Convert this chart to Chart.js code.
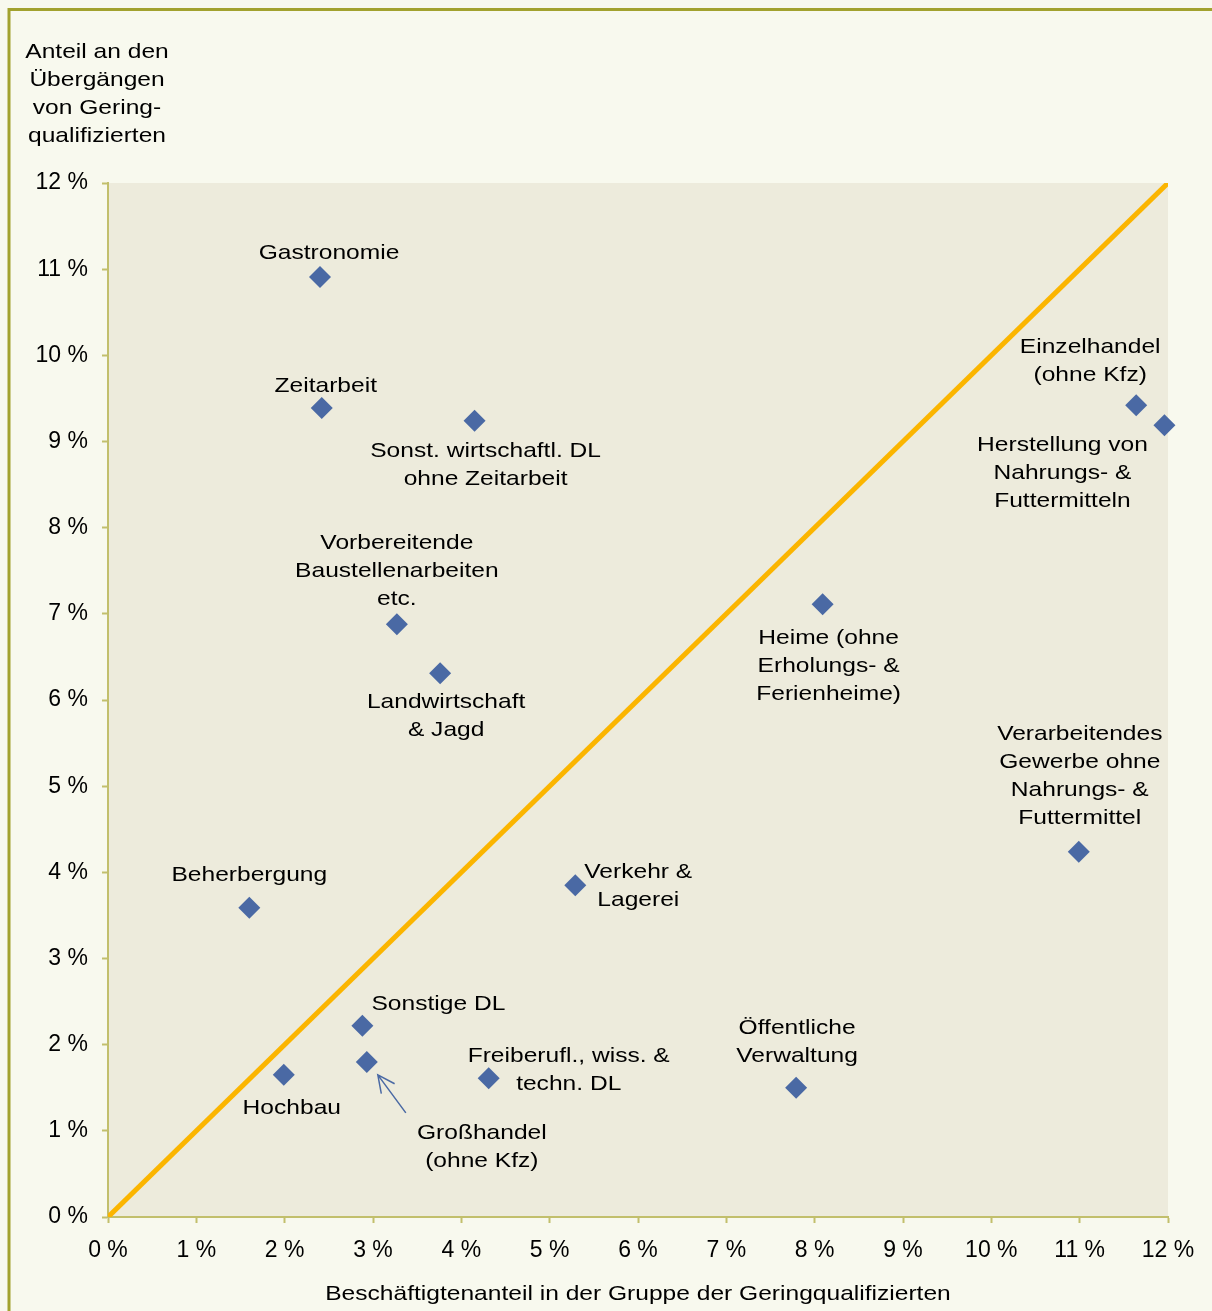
<!DOCTYPE html>
<html lang="de">
<head>
<meta charset="utf-8">
<title>Übergänge von Geringqualifizierten</title>
<script src="https://cdn.jsdelivr.net/npm/chart.js@4.4.1/dist/chart.umd.min.js"></script>
<style>
    body { margin: 0; background: #f8f9ee; }
    #wrap { position: relative; width: 1212px; height: 1311px; }
</style>
</head>
<body>
<div id="wrap"><canvas id="scatterChart"></canvas></div>
<script>
// Branchen (label lines) and their values in percent
const categories = [
    ['Gastronomie'],
    ['Zeitarbeit'],
    ['Sonst. wirtschaftl. DL', 'ohne Zeitarbeit'],
    ['Vorbereitende', 'Baustellenarbeiten', 'etc.'],
    ['Landwirtschaft', '& Jagd'],
    ['Beherbergung'],
    ['Hochbau'],
    ['Sonstige DL'],
    ['Großhandel', '(ohne Kfz)'],
    ['Freiberufl., wiss. &', 'techn. DL'],
    ['Verkehr &', 'Lagerei'],
    ['Öffentliche', 'Verwaltung'],
    ['Heime (ohne', 'Erholungs- &', 'Ferienheime)'],
    ['Verarbeitendes', 'Gewerbe ohne', 'Nahrungs- &', 'Futtermittel'],
    ['Einzelhandel', '(ohne Kfz)'],
    ['Herstellung von', 'Nahrungs- &', 'Futtermitteln']
];
// Beschäftigtenanteil in der Gruppe der Geringqualifizierten
const employmentShare = [2.40, 2.42, 4.15, 3.27, 3.76, 1.60, 1.99, 2.88, 2.93, 4.31, 5.29, 7.79, 8.09, 10.99, 11.64, 11.96];
// Anteil an den Übergängen von Geringqualifizierten
const transitionShare = [10.91, 9.39, 9.24, 6.88, 6.31, 3.59, 1.65, 2.22, 1.80, 1.61, 3.85, 1.50, 7.11, 4.24, 9.42, 9.19];
// Diagonale (gleicher Anteil)
const diagonalX = [0, 12];
const diagonalY = [0, 12];
const tickValues = [0, 1, 2, 3, 4, 5, 6, 7, 8, 9, 10, 11, 12];

const Y_TITLE = ['Anteil an den', 'Übergängen', 'von Gering-', 'qualifizierten'];
const X_TITLE = 'Beschäftigtenanteil in der Gruppe der Geringqualifizierten';

// Label placement relative to each marker (pixels, first line centre)
const labelOffsets = [
    [9, -26], [4, -24], [11, 28], [0, -83], [6, 27], [0, -34], [8, 31], [76, -24],
    [115, 69], [80, -24], [63, -15], [1, -62], [6, 32], [1, -119], [-46, -60], [-102, 18]
];
const ARROW_INDEX = 8; // Großhandel gets a pointer arrow

const FONT = '"Liberation Sans", Arial, sans-serif';
const TEXT_STRETCH = 1.17;
const LINE_HEIGHT = 28;
const BASELINE_FIX = 2; // canvas 'middle' sits a little high for this font
const MARKER_COLOR = '#4a69a4';
const AXIS_COLOR = '#c2bf6c';

// Draw text slightly widened like the original
function drawStretched(ctx, text, x, y) {
    ctx.save();
    ctx.translate(x, y + BASELINE_FIX);
    ctx.scale(TEXT_STRETCH, 1);
    ctx.fillText(text, 0, 0);
    ctx.restore();
}

const framePlugin = {
    id: 'frame',
    beforeDraw(chart) {
        const { ctx, chartArea } = chart;
        ctx.save();
        ctx.fillStyle = '#f8f9ee';
        ctx.fillRect(0, 0, chart.width, chart.height);
        // outer olive frame (left and top visible)
        ctx.strokeStyle = '#a2a22e';
        ctx.lineWidth = 3;
        ctx.beginPath();
        ctx.moveTo(9, chart.height);
        ctx.lineTo(9, 9.5);
        ctx.lineTo(chart.width, 9.5);
        ctx.stroke();
        // plot area background
        ctx.fillStyle = '#edebdc';
        ctx.fillRect(chartArea.left, chartArea.top, chartArea.right - chartArea.left, chartArea.bottom - chartArea.top);
        ctx.restore();
    }
};

const labelPlugin = {
    id: 'pointLabels',
    afterDatasetsDraw(chart) {
        const { ctx } = chart;
        const points = chart.getDatasetMeta(1).data;
        ctx.save();
        ctx.fillStyle = '#000000';
        ctx.font = '21px ' + FONT;
        ctx.textAlign = 'center';
        ctx.textBaseline = 'middle';
        categories.forEach((lines, i) => {
            const p = points[i];
            const [dx, dy] = labelOffsets[i];
            lines.forEach((line, k) => {
                drawStretched(ctx, line, p.x + dx, p.y + dy + k * LINE_HEIGHT);
            });
        });

        // arrow pointing at Großhandel
        const g = points[ARROW_INDEX];
        const tipX = g.x + 11, tipY = g.y + 13;
        const tailX = g.x + 39, tailY = g.y + 51;
        const ang = Math.atan2(tipY - tailY, tipX - tailX);
        ctx.strokeStyle = MARKER_COLOR;
        ctx.lineWidth = 1.5;
        ctx.beginPath();
        ctx.moveTo(tailX, tailY);
        ctx.lineTo(tipX, tipY);
        ctx.moveTo(tipX - 19 * Math.cos(ang - 0.45), tipY - 19 * Math.sin(ang - 0.45));
        ctx.lineTo(tipX, tipY);
        ctx.lineTo(tipX - 19 * Math.cos(ang + 0.45), tipY - 19 * Math.sin(ang + 0.45));
        ctx.stroke();

        // axis titles
        Y_TITLE.forEach((line, k) => drawStretched(ctx, line, 97, 50 + k * LINE_HEIGHT));
        drawStretched(ctx, X_TITLE, 638, 1292);
        ctx.restore();
    }
};

function axisOptions(fitFn) {
    return {
        type: 'linear',
        min: 0,
        max: 12,
        afterFit: fitFn,
        afterBuildTicks: scale => { scale.ticks = tickValues.map(v => ({ value: v })); },
        border: { display: true, color: AXIS_COLOR, width: 2 },
        grid: { drawOnChartArea: false, drawTicks: true, tickLength: 6, tickWidth: 2, tickColor: AXIS_COLOR },
        ticks: {
            color: '#000000',
            font: { family: FONT, size: 23 },
            padding: 14,
            maxRotation: 0,
            autoSkip: false,
            callback: v => v + ' %'
        }
    };
}

const data = {
    datasets: [
        {
            label: 'Diagonale',
            data: diagonalX.map((x, i) => ({ x: x, y: diagonalY[i] })),
            showLine: true,
            borderColor: '#fbb500',
            borderWidth: 5,
            pointRadius: 0,
            order: 2
        },
        {
            label: 'Branchen',
            data: employmentShare.map((x, i) => ({ x: x, y: transitionShare[i] })),
            pointStyle: 'rectRot',
            pointRadius: 11,
            pointBackgroundColor: MARKER_COLOR,
            pointBorderColor: MARKER_COLOR,
            pointBorderWidth: 0,
            clip: false,
            order: 1
        }
    ]
};

new Chart(document.getElementById('scatterChart'), {
    type: 'scatter',
    data: data,
    options: {
        responsive: true,
        maintainAspectRatio: false,
        animation: false,
        layout: { padding: { left: 0, top: 183, right: 44, bottom: 0 } },
        plugins: {
            legend: { display: false },
            tooltip: { enabled: false }
        },
        scales: {
            x: axisOptions(scale => { scale.height = 94; }),
            y: axisOptions(scale => { scale.width = 108; })
        }
    },
    plugins: [framePlugin, labelPlugin]
});
</script>
</body>
</html>
